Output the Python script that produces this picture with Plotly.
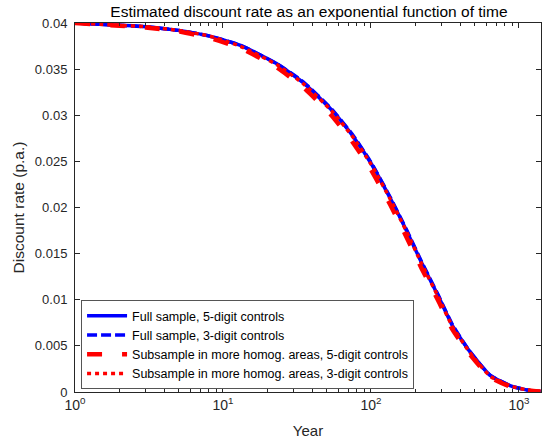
import plotly.graph_objects as go

years = [1, 2, 3, 5, 8, 13, 23, 35, 54, 75, 100, 135, 175, 220, 285, 355, 465, 640, 900, 1250, 1400]
full_5digit = [0.0400, 0.03975, 0.0396, 0.0392, 0.0386, 0.0376, 0.0356, 0.0335, 0.0306, 0.0278, 0.0248,
               0.0210, 0.0174, 0.0140, 0.0104, 0.0072, 0.0044, 0.0018, 0.0006, 0.0001, 0.00005]
full_3digit = [0.0400, 0.03975, 0.0396, 0.0392, 0.0386, 0.0376, 0.0356, 0.0336, 0.0307, 0.0279, 0.0249,
               0.0211, 0.0175, 0.0141, 0.0105, 0.0073, 0.0044, 0.0018, 0.0006, 0.0001, 0.00005]
sub_5digit = [0.0400, 0.0397, 0.0395, 0.0391, 0.0384, 0.0373, 0.0352, 0.0330, 0.0300, 0.0271, 0.0241,
              0.0203, 0.0167, 0.0134, 0.0099, 0.0068, 0.0041, 0.0016, 0.0005, 0.0001, 0.00005]
sub_3digit = [0.0400, 0.03975, 0.0396, 0.0392, 0.0386, 0.0375, 0.0355, 0.0334, 0.0305, 0.0277, 0.0247,
              0.0209, 0.0173, 0.0139, 0.0103, 0.0071, 0.0043, 0.0017, 0.0006, 0.0001, 0.00005]

names = ["Full sample, 5-digit controls",
         "Full sample, 3-digit controls",
         "Subsample in more homog. areas, 5-digit controls",
         "Subsample in more homog. areas, 3-digit controls"]

x_tickvals = [1, 10, 100, 1000]
x_ticktext = ["10<sup>0</sup>", "10<sup>1</sup>", "10<sup>2</sup>", "10<sup>3</sup>"]
y_tickvals = [0, 0.005, 0.01, 0.015, 0.02, 0.025, 0.03, 0.035, 0.04]
y_ticktext = ["0", "0.005", "0.01", "0.015", "0.02", "0.025", "0.03", "0.035", "0.04"]
minor_x = [m * 10 ** d for d in range(0, 4) for m in range(2, 10) if m * 10 ** d <= 1400]

axcol = "#262626"
font = "Liberation Sans, Arial, sans-serif"

fig = go.Figure()
styles = [
    (full_5digit, "#0000ff", "solid", 3.5),
    (full_3digit, "#0000ff", "10px,4px", 3.5),
    (sub_5digit, "#ff0000", "15px,20px", 4.5),
    (sub_3digit, "#ff0000", "4px,4px", 3.5),
]
for (vals, col, dash, w), nm in zip(styles, names):
    fig.add_trace(go.Scatter(x=years, y=vals, mode="lines", name=nm,
                             line=dict(color=col, dash=dash, width=w, shape="spline", smoothing=0.5)))

fig.update_layout(
    width=542, height=445,
    margin=dict(l=75, r=1, t=23, b=53),
    paper_bgcolor="white", plot_bgcolor="white",
    font=dict(family=font, color=axcol, size=13),
    title=dict(text="Estimated discount rate as an exponential function of time",
               x=0.57, xanchor="center", y=0.973, yanchor="middle",
               font=dict(size=15.5, color="black")),
    showlegend=True,
    legend=dict(x=0.013, y=0.008, xanchor="left", yanchor="bottom",
                bgcolor="white", bordercolor="#555555", borderwidth=1,
                font=dict(size=12.5, color="black"), tracegroupgap=0, itemwidth=40),
)
fig.update_xaxes(type="log", range=[0, 3.149], showgrid=False, zeroline=False,
                 showline=True, linecolor=axcol, linewidth=1, mirror="ticks",
                 ticks="inside", ticklen=5, tickcolor=axcol,
                 tickvals=x_tickvals, ticktext=x_ticktext, tickfont=dict(size=14),
                 minor=dict(tickvals=minor_x, ticks="inside", ticklen=3, tickcolor=axcol, showgrid=False),
                 title=dict(text="Year", font=dict(size=15), standoff=13))
fig.update_yaxes(range=[0, 0.04], showgrid=False, zeroline=False,
                 showline=True, linecolor=axcol, linewidth=1, mirror="ticks",
                 ticks="inside", ticklen=5, tickcolor=axcol, ticklabelstandoff=4,
                 tickvals=y_tickvals, ticktext=y_ticktext, tickfont=dict(size=13),
                 title=dict(text="Discount rate (p.a.)", font=dict(size=15.5), standoff=6))

fig.write_html("out.html", post_script="document.body.style.margin='0';",
               config={"displayModeBar": False})
